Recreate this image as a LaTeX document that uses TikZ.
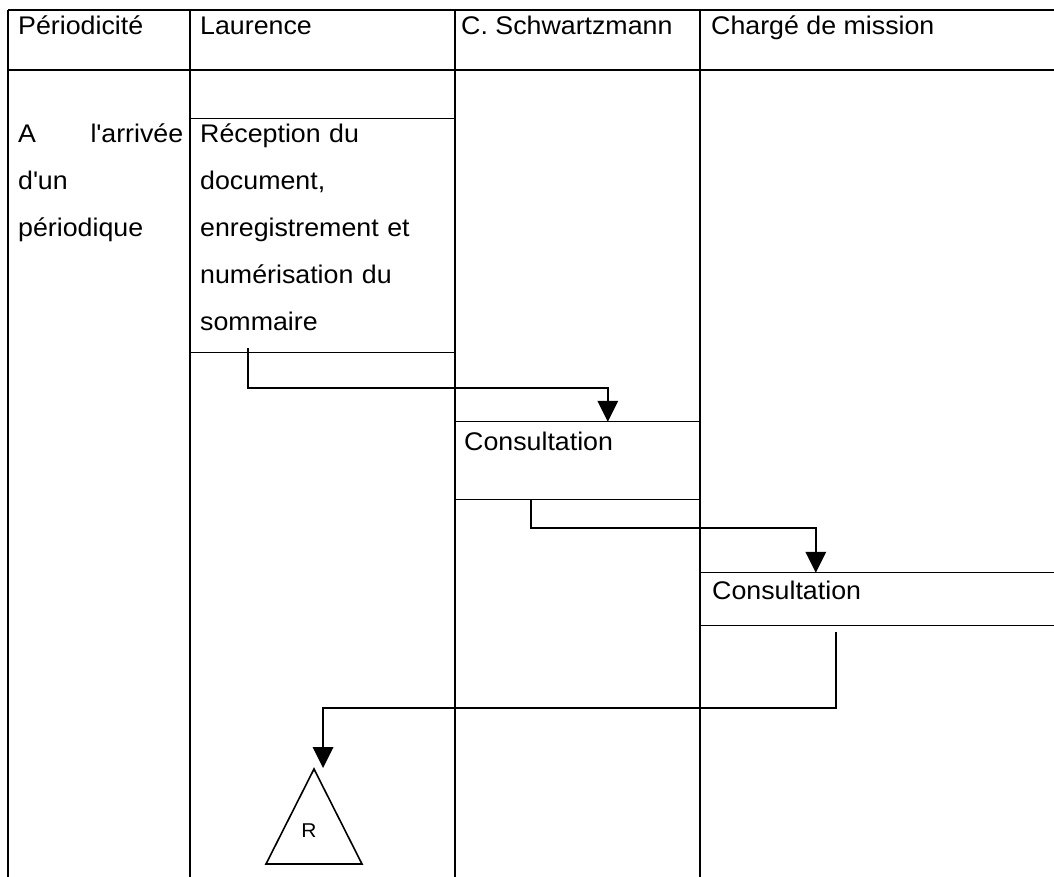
\documentclass[tikz,border=0pt]{standalone}
\usepackage{fontspec}
\setmainfont{Liberation Sans}[FakeStretch=1.05]
\usetikzlibrary{calc}

\begin{document}
\begin{tikzpicture}[x=1pt,y=-1pt,
	trait/.style={black, line width=1.3pt},
	fleche/.style={black, line width=2.2pt},
	texte/.style={anchor=base west, font=\fontsize{25.5}{47}\selectfont},
	bloc/.style={texte, text width=#1, align=left},
	boite/.style={draw=none, minimum width=#1}]
	\tikzstyle{every node}+=[inner sep=0pt]
	\useasboundingbox (0,0) rectangle (1054,877);
	% grille du tableau
	\draw [trait] (8,10) -- (1054,10);
	\draw [trait] (8,70) -- (1054,70);
	\draw [trait] (8,10) -- (8,877);
	\draw [trait] (190,10) -- (190,877);
	\draw [trait] (455,10) -- (455,877);
	\draw [trait] (700,10) -- (700,877);
	% entetes
	\draw (18,35) node [texte] (hperi) {Périodicité};
	\draw (200,35) node [texte] (hlaur) {Laurence};
	\draw (461,35) node [texte] (hschw) {C. Schwartzmann};
	\draw (711,35) node [texte] (hchar) {Chargé de mission};
	\draw (18,143) node [bloc=165pt] (peri) {A\hfill l\textquotesingle arrivée\\d\textquotesingle un\\périodique};
	% taches
	\node [boite=265pt, minimum height=233pt] (recep) at (322.5,235.5) {};
	\draw [trait] (recep.north west) -- (recep.north east);
	\draw [trait] (recep.south west) -- (recep.south east);
	\draw (200,143) node [bloc=250pt] (trecep) {Réception du\\document,\\enregistrement et\\numérisation du\\sommaire};
	\node [boite=245pt, minimum height=77pt] (cons1) at (577.5,460.5) {};
	\draw [trait] (cons1.north west) -- (cons1.north east);
	\draw [trait] (cons1.south west) -- (cons1.south east);
	\draw (464,450) node [texte] (tcons1) {Consultation};
	\node [boite=354pt, minimum height=52pt] (cons2) at (877,599) {};
	\draw [trait] (cons2.north west) -- (cons2.north east);
	\draw [trait] (cons2.south west) -- (cons2.south east);
	\draw (712,599) node [texte] (tcons2) {Consultation};
	% classement
	\coordinate (sommet) at (314,769);
	\coordinate (pointe) at (323,768);
	\draw [black, line width=1.6pt, line join=miter] (sommet) -- ++(48,95) -- ++(-96,0) -- cycle;
	\draw (309,837) node [anchor=base, font=\fontsize{20}{20}\selectfont] (archive) {R};
	% fleches
	\draw [fleche] ($(recep.south west)+(58,-4)$) |- ($(cons1.north west)+(153,-34)$) -- ($(cons1.north west)+(153,-19)$);
	\fill [black] ($(cons1.north west)+(153,0)$) -- ++(-10.5,-21) -- ++(21,0) -- cycle;
	\draw [fleche] ($(cons1.south west)+(76,0)$) |- ($(cons2.north west)+(116,-45)$) -- ($(cons2.north west)+(116,-19)$);
	\fill [black] ($(cons2.north west)+(116,0)$) -- ++(-10.5,-21) -- ++(21,0) -- cycle;
	\draw [fleche] ($(cons2.south west)+(136,7)$) |- ($(pointe)+(0,-60)$) -- ($(pointe)+(0,-19)$);
	\fill [black] (pointe) -- ++(-10.5,-21) -- ++(21,0) -- cycle;
\end{tikzpicture}
\end{document}
